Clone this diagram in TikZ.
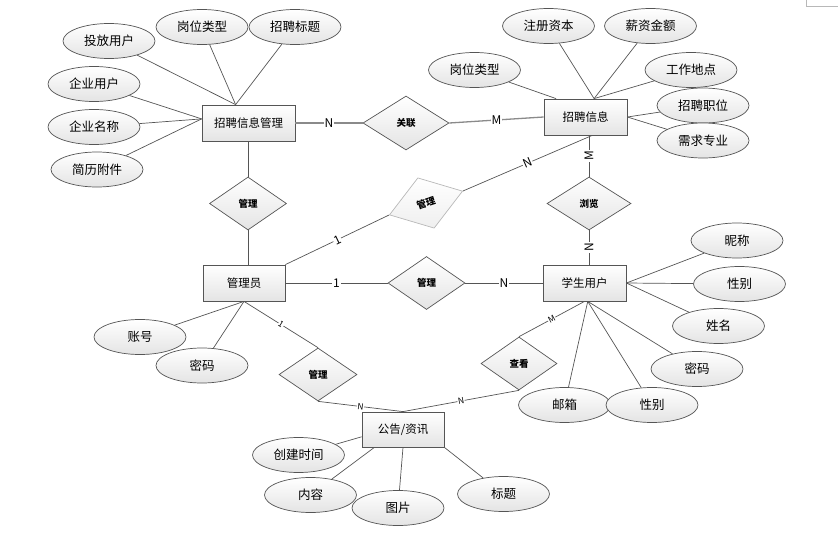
\documentclass[tikz,border=0pt]{standalone}
\usepackage{fontspec}
\setmainfont{Noto Sans CJK SC}
\usepackage{xcolor}
\usetikzlibrary{positioning,calc,shapes.geometric,shadows}
\definecolor{Ink}{HTML}{000000}
\definecolor{Edge}{HTML}{555555}
\definecolor{EdgeSoft}{HTML}{B8B8B8}
\definecolor{Shade}{HTML}{E4E4E4}
\definecolor{Thick}{HTML}{8A8A8A}
\tikzset{
  entity/.style={draw=Edge,line width=0.8pt,top color=white,bottom color=Shade,drop shadow={shadow xshift=1.2pt,shadow yshift=-1.2pt,opacity=0.25},minimum height=36pt,inner sep=0pt,font=\fontsize{11.5}{13}\selectfont,text=Ink},
  attr/.style={ellipse,draw=Edge,line width=0.7pt,top color=white,bottom color=Shade,minimum width=92pt,minimum height=35pt,inner sep=0pt,font=\fontsize{12.5}{14}\selectfont,text=Ink},
  rel/.style={diamond,draw=Edge,line width=0.7pt,top color=white,bottom color=Shade,aspect=1.45,minimum width=77pt,minimum height=53pt,inner sep=0pt,font=\fontsize{9.5}{11}\selectfont\bfseries,text=Ink},
  relsoft/.style={rel,draw=EdgeSoft,bottom color=Shade!60},
  conn/.style={draw=Edge,line width=0.7pt},
  connthick/.style={draw=Thick,line width=1.3pt},
  card/.style={fill=white,inner sep=0.8pt,font=\fontsize{12}{12}\selectfont,text=Ink},
  cardsm/.style={fill=white,inner sep=0.5pt,font=\fontsize{8.5}{9}\selectfont,text=Ink}
}
\begin{document}
\begin{tikzpicture}[x=1pt,y=-1pt]
  \useasboundingbox (0,0) rectangle (838,557);
  \draw[EdgeSoft,line width=0.6pt] (806,0) -- (806,6) -- (838,6);

  \node[entity,minimum width=93pt] (recmgr) at (248.5,123) {招聘信息管理};
  \node[entity,minimum width=83pt] (recinfo) at (585.5,117) {招聘信息};
  \node[entity,minimum width=82pt] (admin) at (244,283) {管理员};
  \node[entity,minimum width=83pt] (stu) at (584.5,283) {学生用户};
  \node[entity,minimum width=82pt,minimum height=35pt] (notice) at (403,429.5) {公告/资讯};

  \node[rel,minimum width=86pt,minimum height=54pt,aspect=1.6] (dlink) at (406,123) {关联};
  \node[rel] (dmgr1) at (248,203.5) {管理};
  \node[relsoft,rotate=18] (dmgr2) at (426,203) {管理};
  \node[rel,minimum width=84pt,aspect=1.58] (dbrowse) at (589,203.5) {浏览};
  \node[rel] (dmgr3) at (426.5,283) {管理};
  \node[rel,minimum width=78pt] (dmgr4) at (318,374.5) {管理};
  \node[rel,minimum width=76pt] (dview) at (519,363.5) {查看};

  \node[attr] (putuser) at (109,41) {投放用户};
  \node[attr] (jobtype1) at (202,27) {岗位类型};
  \node[attr] (title1) at (295,27) {招聘标题};
  \node[attr] (company) at (94,84) {企业用户};
  \node[attr] (compname) at (94,127) {企业名称};
  \node[attr] (resume) at (97,169.5) {简历附件};

  \node[attr] (jobtype2) at (474.5,70) {岗位类型};
  \node[attr] (capital) at (548.5,26) {注册资本};
  \node[attr] (salary) at (650.5,26) {薪资金额};
  \node[attr] (place) at (691,70) {工作地点};
  \node[attr] (position) at (703,105.5) {招聘职位};
  \node[attr] (major) at (703,140.5) {需求专业};

  \node[attr] (nick) at (737,240.5) {昵称};
  \node[attr] (sex1) at (739.5,284) {性别};
  \node[attr] (name) at (718.5,326) {姓名};
  \node[attr] (pwd1) at (697,369) {密码};
  \node[attr] (mail) at (564.5,405) {邮箱};
  \node[attr] (sex2) at (652,405) {性别};

  \node[attr] (account) at (140,337) {账号};
  \node[attr] (pwd2) at (202,365.5) {密码};

  \node[attr] (ctime) at (298.5,455) {创建时间};
  \node[attr] (content) at (310.5,495) {内容};
  \node[attr] (picture) at (398,508) {图片};
  \node[attr] (headline) at (503.5,494) {标题};

  \draw[conn] (recmgr.125) -- (putuser);
  \draw[conn] (recmgr.125) -- (jobtype1);
  \draw[conn] (recmgr.125) -- (title1);
  \draw[conn] (recmgr.175) -- (company);
  \draw[conn] (recmgr.175) -- (compname);
  \draw[conn] (recmgr.175) -- (resume);

  \draw[conn] (recinfo.148) -- (jobtype2);
  \draw[conn] (recinfo.65) -- (capital);
  \draw[conn] (recinfo.65) -- (salary);
  \draw[conn] (recinfo.65) -- (place);
  \draw[conn] (recinfo.east) -- (position);
  \draw[conn] (recinfo.east) -- (major);

  \draw[conn] (stu.east) -- (nick);
  \draw[conn] (stu.east) -- (sex1);
  \draw[conn] (stu.east) -- (name);
  \draw[conn] (stu.-80) -- (pwd1);
  \draw[conn] (stu.-80) -- (mail);
  \draw[conn] (stu.-80) -- (sex2);

  \draw[conn] (admin.south) -- (account);
  \draw[conn] (admin.south) -- (pwd2);

  \draw[conn] (notice.190) -- (ctime);
  \draw[conn] (notice.212) -- (content);
  \draw[conn] (notice.south) -- (picture);
  \draw[conn] (notice.south east) -- (headline);

  \draw[connthick] (recmgr.east) -- node[card] {N} (dlink.west);
  \draw[connthick] (dlink.east) -- node[card] {M} (recinfo.west);
  \draw[conn] (recmgr.south -| dmgr1.north) -- (dmgr1.north);
  \draw[conn] (dmgr1.south) -- (admin.north -| dmgr1.south);
  \draw[conn] (admin.north east) -- node[card,sloped] {1} (dmgr2.west);
  \draw[conn] (dmgr2.east) -- node[card,sloped] {N} (recinfo.-70);
  \draw[conn] (recinfo.south -| dbrowse.north) -- node[card,rotate=90] {M} (dbrowse.north);
  \draw[conn] (dbrowse.south) -- node[card,rotate=90] {N} (stu.north -| dbrowse.south);
  \draw[conn] (admin.east) -- node[card] {1} (dmgr3.west);
  \draw[conn] (dmgr3.east) -- node[card] {N} (stu.west);
  \draw[conn] (stu.south) -- node[cardsm,sloped] {M} (dview.north);
  \draw[conn] (dview.south) -- node[cardsm,sloped] {N} (notice.north);
  \draw[conn] (admin.south) -- node[cardsm,sloped] {1} (dmgr4.north);
  \draw[conn] (dmgr4.south) -- node[cardsm,sloped] {N} (notice.north);
\end{tikzpicture}
\end{document}
